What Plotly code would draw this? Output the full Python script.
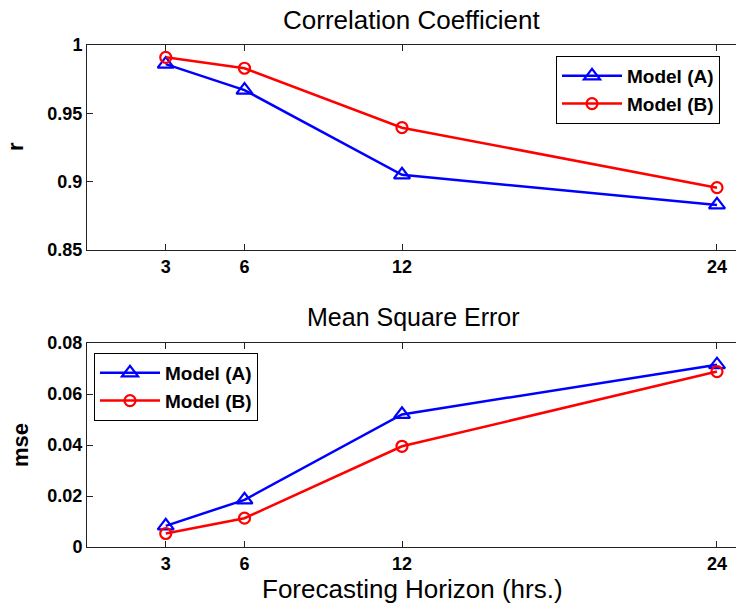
import plotly.graph_objects as go

horizons = [3, 6, 12, 24]
r_model_a = [0.986, 0.967, 0.905, 0.883]
r_model_b = [0.991, 0.983, 0.9395, 0.8956]
mse_model_a = [0.0083, 0.0185, 0.052, 0.0715]
mse_model_b = [0.0053, 0.0113, 0.0395, 0.0688]
series_names = ["Model (A)", "Model (B)"]
r_ticks = [0.85, 0.9, 0.95, 1.0]
r_tick_text = ["0.85", "0.9", "0.95", "1"]
mse_ticks = [0, 0.02, 0.04, 0.06, 0.08]
mse_tick_text = ["0", "0.02", "0.04", "0.06", "0.08"]

BLUE = "#0000ff"
RED = "#ff0000"
FONT = "Liberation Sans"

fig = go.Figure()

def add(x, y, name, color, symbol, size, xa, ya, legend):
    fig.add_trace(go.Scatter(
        x=x, y=y, name=name, mode="lines+markers",
        line=dict(color=color, width=2.5),
        marker=dict(symbol=symbol, size=size, color=color,
                    line=dict(color=color, width=2.2)),
        xaxis=xa, yaxis=ya, legend=legend,
    ))

add(horizons, r_model_a, series_names[0], BLUE, "triangle-up-open", 14, "x", "y", "legend")
add(horizons, r_model_b, series_names[1], RED, "circle-open", 11, "x", "y", "legend")
add(horizons, mse_model_a, series_names[0], BLUE, "triangle-up-open", 14, "x2", "y2", "legend2")
add(horizons, mse_model_b, series_names[1], RED, "circle-open", 11, "x2", "y2", "legend2")

W, H = 736, 603
L = 87
top_dom = [1 - 250 / H, 1 - 45 / H]
bot_dom = [1 - 547 / H, 1 - 343 / H]
xrange = [0, 3 + (736 - 166) / (551 / 21)]

tickfont = dict(family=FONT, size=18, color="black", weight="bold")
common_x = dict(range=xrange, tickvals=horizons, ticktext=[str(h) for h in horizons],
                ticks="inside", ticklen=6, tickcolor="#222", showline=True,
                linecolor="#222", linewidth=1, mirror="ticks", showgrid=False,
                zeroline=False, tickfont=tickfont, fixedrange=True, automargin=False)
common_y = dict(ticks="inside", ticklen=6, tickcolor="#222", showline=True,
                linecolor="#222", linewidth=1, mirror=False, showgrid=False,
                zeroline=False, tickfont=tickfont, fixedrange=True, automargin=False)

legend_common = dict(bgcolor="white", bordercolor="black", borderwidth=1,
                     font=dict(family=FONT, size=19, color="black", weight="bold"),
                     xanchor="left", yanchor="top", tracegroupgap=0,
                     itemwidth=60)

fig.update_layout(
    width=W, height=H,
    margin=dict(l=L, r=0, t=0, b=0, autoexpand=False),
    paper_bgcolor="white", plot_bgcolor="white",
    xaxis=dict(domain=[0, 1], anchor="y", **common_x),
    yaxis=dict(domain=top_dom, anchor="x", range=[0.85, 1.0], tickvals=r_ticks,
               ticktext=r_tick_text, **common_y),
    xaxis2=dict(domain=[0, 1], anchor="y2", **common_x),
    yaxis2=dict(domain=bot_dom, anchor="x2", range=[0, 0.08], tickvals=mse_ticks,
                ticktext=mse_tick_text, **common_y),
    legend=dict(x=(556 - L) / (W - L), y=1 - 56 / H, **legend_common),
    legend2=dict(x=(94 - L) / (W - L), y=1 - 353 / H, **legend_common),
    showlegend=True,
)

title_font = dict(family=FONT, size=26, color="black")
label_font = dict(family=FONT, size=22, color="black", weight="bold")
fig.add_annotation(text="Correlation Coefficient", xref="paper", yref="paper",
                   x=(412 - L) / (W - L), y=1 - 20 / H, showarrow=False,
                   font=title_font, xanchor="center", yanchor="middle")
fig.add_annotation(text="Mean Square Error", xref="paper", yref="paper",
                   x=(413 - L) / (W - L), y=1 - 317 / H, showarrow=False,
                   font=dict(family=FONT, size=25, color="black"),
                   xanchor="center", yanchor="middle")
fig.add_annotation(text="Forecasting Horizon (hrs.)", xref="paper", yref="paper",
                   x=(412 - L) / (W - L), y=1 - 589 / H, showarrow=False,
                   font=dict(family=FONT, size=26, color="black"),
                   xanchor="center", yanchor="middle")
fig.add_annotation(text="r", xref="paper", yref="paper",
                   x=(15 - L) / (W - L), y=1 - 147 / H, showarrow=False,
                   font=label_font, textangle=-90, xanchor="center", yanchor="middle")
fig.add_annotation(text="mse", xref="paper", yref="paper",
                   x=(20 - L) / (W - L), y=1 - 445 / H, showarrow=False,
                   font=label_font, textangle=-90, xanchor="center", yanchor="middle")

fig.write_html("out.html")
